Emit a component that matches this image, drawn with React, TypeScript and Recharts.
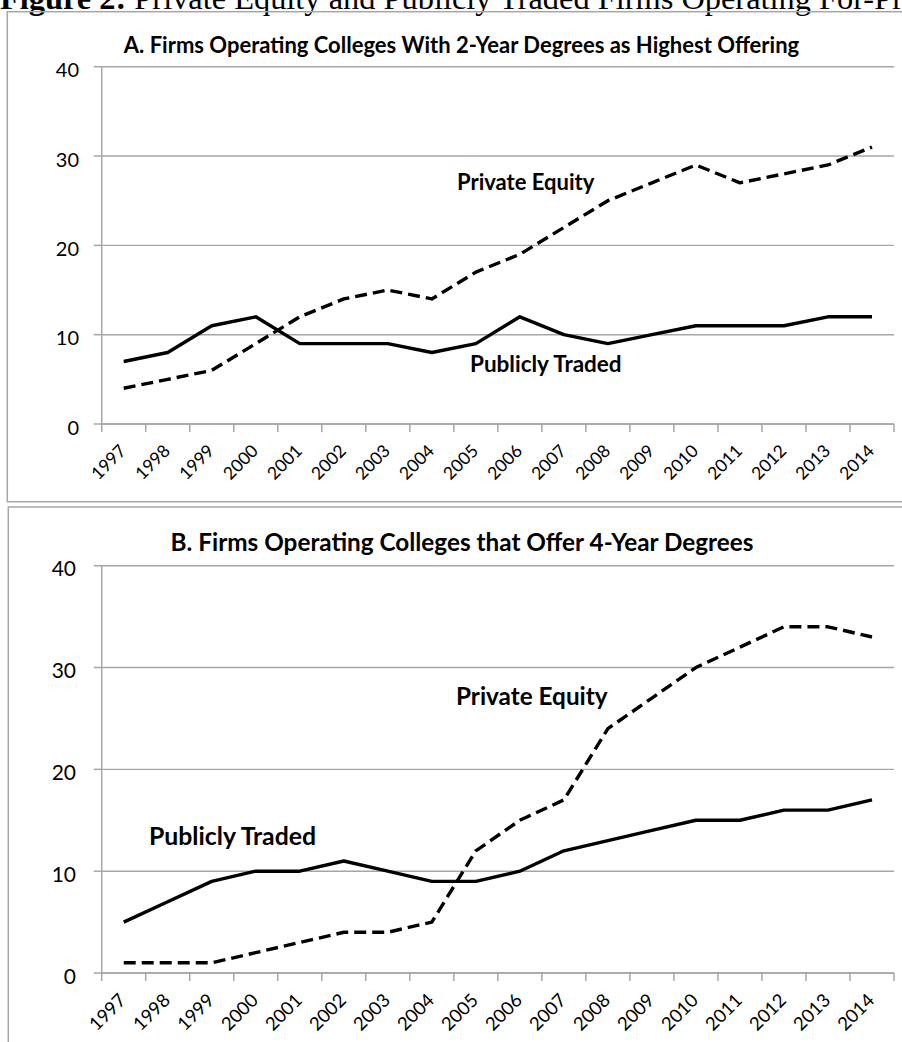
import React from 'react';
import { LineChart, Line, XAxis, YAxis, CartesianGrid } from 'recharts';

const years = ['1997', '1998', '1999', '2000', '2001', '2002', '2003', '2004', '2005', '2006', '2007', '2008', '2009', '2010', '2011', '2012', '2013', '2014'];
const privateEquityA = [4, 5, 6, 9, 12, 14, 15, 14, 17, 19, 22, 25, 27, 29, 27, 28, 29, 31];
const publiclyTradedA = [7, 8, 11, 12, 9, 9, 9, 8, 9, 12, 10, 9, 10, 11, 11, 11, 12, 12];
const privateEquityB = [1, 1, 1, 2, 3, 4, 4, 5, 12, 15, 17, 24, 27, 30, 32, 34, 34, 33];
const publiclyTradedB = [5, 7, 9, 10, 10, 11, 10, 9, 9, 10, 12, 13, 14, 15, 15, 16, 16, 17];
const yTicks = [0, 10, 20, 30, 40];

const FONT = 'Lato, "Open Sans", sans-serif';
const GRID = '#a6a6a6';

const buildRows = (pe: number[], pt: number[]) =>
  years.map((year, i) => ({ x: i + 0.5, year, pe: pe[i], pt: pt[i] }));

// ticks: category boundaries (integers, drawn as marks) and centers (labels)
const xTicks: number[] = [];
years.forEach((_, i) => {
  xTicks.push(i);
  xTicks.push(i + 0.5);
});
xTicks.push(years.length);

const makeXTick = (fontSize: number, dyAnchor: number, dxAnchor: number) => (props: any) => {
  const { x, y, payload } = props;
  const v = payload.value as number;
  if (Number.isInteger(v)) {
    return <line x1={x} y1={y} x2={x} y2={y + 8} stroke={GRID} strokeWidth={1.5} />;
  }
  const label = years[Math.floor(v)];
  const ax = x + dxAnchor;
  const ay = y + dyAnchor;
  return (
    <text x={ax} y={ay} textAnchor="end" fontFamily={FONT} fontSize={fontSize} fill="#000" transform={`rotate(-45 ${ax} ${ay})`}>
      {label}
    </text>
  );
};

const makeYTick = (fontSize: number, offset: number) => (props: any) => {
  const { x, y, payload } = props;
  return (
    <text x={x} y={y + offset} textAnchor="end" fontFamily={FONT} fontSize={fontSize} fill="#000">
      {payload.value}
    </text>
  );
};

type PanelProps = {
  rows: any[];
  width: number;
  height: number;
  top: number;
  xAxisHeight: number;
  yTickMargin: number;
  yFont: number;
  xFont: number;
  xDy: number;
  xDx: number;
};

const Panel = ({ rows, width, height, top, xAxisHeight, yTickMargin, yFont, xFont, xDy, xDx }: PanelProps) => (
  <LineChart width={width} height={height} data={rows} margin={{ top, right: 8, left: 0, bottom: 0 }}>
    <CartesianGrid horizontal vertical={false} stroke={GRID} strokeWidth={1.4} />
    <XAxis
      dataKey="x"
      type="number"
      domain={[0, years.length]}
      ticks={xTicks}
      interval={0}
      height={xAxisHeight}
      tickLine={false}
      tickSize={0}
      tickMargin={0}
      axisLine={{ stroke: GRID, strokeWidth: 1.5 }}
      tick={makeXTick(xFont, xDy, xDx)}
    />
    <YAxis
      type="number"
      domain={[0, 40]}
      ticks={yTicks}
      interval={0}
      width={101.7}
      tickSize={8}
      tickMargin={yTickMargin}
      tickLine={{ stroke: GRID, strokeWidth: 1.5 }}
      axisLine={{ stroke: GRID, strokeWidth: 1.5 }}
      tick={makeYTick(yFont, 10.7)}
    />
    <Line type="linear" dataKey="pt" stroke="#000" strokeWidth={3.4} dot={false} isAnimationActive={false} strokeLinejoin="round" />
    <Line type="linear" dataKey="pe" stroke="#000" strokeWidth={3.4} strokeDasharray="12 6" dot={false} isAnimationActive={false} strokeLinejoin="round" />
  </LineChart>
);

export default function App() {
  const rowsA = buildRows(privateEquityA, publiclyTradedA);
  const rowsB = buildRows(privateEquityB, publiclyTradedB);
  return (
    <div style={{ position: 'absolute', left: 0, top: 0, width: 902, height: 1042, overflow: 'hidden', background: '#fff' }}>
      <div style={{ position: 'absolute', left: 0, top: 0 }}>
        <Panel rows={rowsA} width={902} height={502} top={66.7} xAxisHeight={78} yTickMargin={14.7} yFont={20} xFont={17.5} xDy={28} xDx={3.5} />
      </div>
      <div style={{ position: 'absolute', left: 0, top: 502 }}>
        <Panel rows={rowsB} width={902} height={540} top={63.7} xAxisHeight={69} yTickMargin={17.7} yFont={21} xFont={18.5} xDy={28.5} xDx={3.5} />
      </div>
      <svg width={902} height={1042} style={{ position: 'absolute', left: 0, top: 0, pointerEvents: 'none' }}>
        <text x={0} y={9} fontFamily='"Liberation Serif", "Times New Roman", serif' fontSize={32.4} fill="#000">
          <tspan fontWeight="bold">Figure 2:</tspan> Private Equity and Publicly Traded Firms Operating For-Profit Colleges
        </text>
        <rect x={7.3} y={11.7} width={1000} height={490} fill="none" stroke={GRID} strokeWidth={1.5} />
        <rect x={8.3} y={507} width={1000} height={600} fill="none" stroke={GRID} strokeWidth={1.5} />
        <text x={461.5} y={52.7} textAnchor="middle" fontFamily={FONT} fontWeight="bold" fontSize={22} fill="#000">
          A. Firms Operating Colleges With 2-Year Degrees as Highest Offering
        </text>
        <text x={462} y={551} textAnchor="middle" fontFamily={FONT} fontWeight="bold" fontSize={24.3} fill="#000">
          B. Firms Operating Colleges that Offer 4-Year Degrees
        </text>
        <text x={457} y={190} fontFamily={FONT} fontWeight="bold" fontSize={22} fill="#000">Private Equity</text>
        <text x={470} y={371.7} fontFamily={FONT} fontWeight="bold" fontSize={22.5} fill="#000">Publicly Traded</text>
        <text x={456} y={705} fontFamily={FONT} fontWeight="bold" fontSize={24.3} fill="#000">Private Equity</text>
        <text x={149} y={845} fontFamily={FONT} fontWeight="bold" fontSize={24.8} fill="#000">Publicly Traded</text>
      </svg>
    </div>
  );
}
